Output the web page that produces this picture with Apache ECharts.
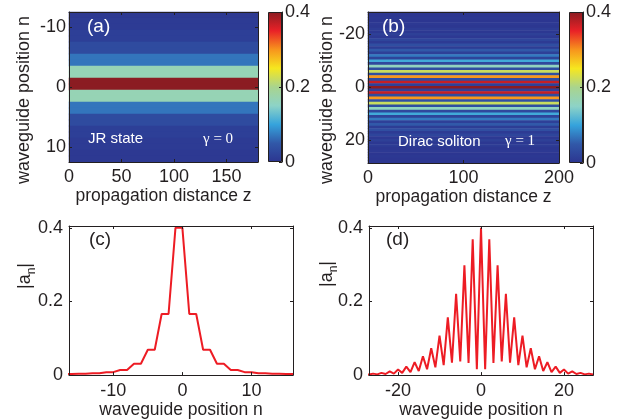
<!DOCTYPE html>
<html>
<head>
<meta charset="utf-8">
<script src="https://cdn.jsdelivr.net/npm/echarts@6/dist/echarts.min.js"></script>
<style>html,body{margin:0;padding:0;background:#fff}#main{width:620px;height:420px}</style>
</head>
<body>
<div id="main"></div>
<script>
var chartDom = document.getElementById('main');
var myChart = echarts.init(chartDom);
var option;

// JR state (gamma = 0): waveguide index n and amplitude |a_n|
const jrN = [-17, -16, -15, -14, -13, -12, -11, -10, -9, -8, -7, -6, -5, -4, -3, -2, -1,
  0, 1, 2, 3, 4, 5, 6, 7, 8, 9, 10, 11, 12, 13, 14, 15, 16, 17];
const jrAmp = [0.003, 0.003, 0.004, 0.004, 0.005, 0.005, 0.008, 0.008, 0.014, 0.014,
  0.031, 0.031, 0.069, 0.069, 0.166, 0.166, 0.4,
  0.4, 0.166, 0.166, 0.069, 0.069, 0.031, 0.031, 0.014, 0.014, 0.008, 0.008,
  0.005, 0.005, 0.004, 0.004, 0.003, 0.003, 0.002];

// Dirac soliton (gamma = 1)
const diracN = [-28, -27, -26, -25, -24, -23, -22, -21, -20, -19, -18, -17, -16, -15, -14,
  -13, -12, -11, -10, -9, -8, -7, -6, -5, -4, -3, -2, -1, 0, 1, 2, 3, 4, 5, 6, 7, 8, 9,
  10, 11, 12, 13, 14, 15, 16, 17, 18, 19, 20, 21, 22, 23, 24, 25, 26, 27, 28];
const diracAmp = [0.003, 0.0015, 0.004, 0.002, 0.006, 0.003, 0.010, 0.004, 0.015, 0.006,
  0.023, 0.008, 0.035, 0.011, 0.051, 0.016, 0.073, 0.021, 0.107, 0.027, 0.157, 0.034,
  0.221, 0.037, 0.298, 0.033, 0.369, 0.016, 0.400, 0.016, 0.369, 0.033, 0.298, 0.037,
  0.221, 0.034, 0.157, 0.027, 0.107, 0.021, 0.073, 0.016, 0.051, 0.011, 0.035, 0.008,
  0.023, 0.006, 0.015, 0.004, 0.010, 0.003, 0.006, 0.002, 0.004, 0.0015, 0.003];

// tick labels
const zTicksA = [0, 50, 100, 150];
const zTicksB = [0, 100, 200];
const nTicksA = [-10, 0, 10];
const nTicksB = [-20, 0, 20];
const ampTicks = [0, 0.2, 0.4];

const ink = '#231f20';
const font = 'Liberation Sans';
// jet colormap as printed
const jet = ['#2c3590', '#3158a8', '#35a3dc', '#8dd3c7', '#a9d48e',
  '#f6e71f', '#f7941d', '#e92127', '#8b1c22'];

// rows of a map: amplitudes of the profile for |n| within the map range
function mapRows(ns, amps, nmax) {
  const rows = [];
  const data = [];
  ns.forEach(function (n, i) {
    if (Math.abs(n) <= nmax) {
      data.push([0, rows.length, amps[i]]);
      rows.push(String(n));
    }
  });
  return { rows: rows, data: data };
}
const mapA = mapRows(jrN, jrAmp, 12);
const mapB = mapRows(diracN, diracAmp, 28);

function valAxis(grid, pos, min, max, ticks, labels, inverse, margin) {
  return {
    type: 'value', gridIndex: grid, position: pos, min: min, max: max,
    inverse: !!inverse, z: 10,
    axisLine: { show: true, onZero: false, lineStyle: { color: ink, width: 1 } },
    axisTick: { show: true, inside: true, length: 3, customValues: ticks, lineStyle: { color: ink } },
    axisLabel: { show: labels, customValues: ticks, color: ink, fontSize: 18, fontFamily: font, margin: margin || 5 },
    splitLine: { show: false }
  };
}
function xName(ax, name, gap) {
  ax.name = name;
  ax.nameLocation = 'middle';
  ax.nameGap = gap;
  ax.nameTextStyle = { color: ink, fontSize: 17.5, fontFamily: font };
  return ax;
}
function hiddenCat(grid, data, inverse) {
  return { type: 'category', gridIndex: grid, data: data, show: false, inverse: !!inverse };
}

const barGradient = new echarts.graphic.LinearGradient(0, 1, 0, 0,
  jet.map(function (c, i) { return { offset: i / (jet.length - 1), color: c }; }));

function label(x, y, text, size, color, family) {
  return {
    type: 'text', x: x, y: y, z: 100,
    style: { text: text, fill: color, font: size + 'px "' + family + '"', textAlign: 'left', textVerticalAlign: 'top' }
  };
}
function vLabel(x, y, text, rich) {
  return {
    type: 'text', x: x, y: y, rotation: Math.PI / 2, z: 100,
    style: {
      text: text, fill: ink, font: '18px "' + font + '"', lineHeight: 26,
      align: 'center', verticalAlign: 'middle', textAlign: 'center', textVerticalAlign: 'middle',
      rich: rich || {}
    }
  };
}
const subRich = { s: { fontSize: 12, fontFamily: font, fill: ink, verticalAlign: 'bottom', lineHeight: 26 } };

option = {
  animation: false,
  textStyle: { fontFamily: font },
  grid: [
    { left: 69, top: 12, width: 189, height: 150 },
    { left: 268, top: 12, width: 14, height: 150 },
    { left: 368, top: 12, width: 191, height: 151 },
    { left: 569, top: 12, width: 14, height: 151 },
    { left: 69, top: 226, width: 224, height: 150 },
    { left: 369, top: 226, width: 224, height: 150 }
  ],
  xAxis: [
    hiddenCat(0, ['z']),
    xName(valAxis(0, 'bottom', 0, 180, zTicksA, true, false, 6), 'propagation distance z', 22),
    valAxis(0, 'top', 0, 180, zTicksA, false),
    hiddenCat(1, ['cb']),
    hiddenCat(2, ['z']),
    xName(valAxis(2, 'bottom', 0, 200, zTicksB, true, false, 6), 'propagation distance z', 22),
    valAxis(2, 'top', 0, 200, zTicksB, false),
    hiddenCat(3, ['cb']),
    xName(valAxis(4, 'bottom', -16.4, 16, nTicksA, true, false, 7), 'waveguide position n', 23),
    valAxis(4, 'top', -16.4, 16, nTicksA, false),
    xName(valAxis(5, 'bottom', -27, 27, nTicksB, true, false, 7), 'waveguide position n', 23),
    valAxis(5, 'top', -27, 27, nTicksB, false)
  ],
  yAxis: [
    hiddenCat(0, mapA.rows, true),
    valAxis(0, 'left', -12.5, 12.5, nTicksA, true, true, 3),
    valAxis(0, 'right', -12.5, 12.5, nTicksA, false, true),
    valAxis(1, 'right', 0, 0.4, ampTicks, true, false, 3),
    hiddenCat(2, mapB.rows, true),
    valAxis(2, 'left', -28.5, 28.5, nTicksB, true, true, 3),
    valAxis(2, 'right', -28.5, 28.5, nTicksB, false, true),
    valAxis(3, 'right', 0, 0.4, ampTicks, true, false, 3),
    valAxis(4, 'left', 0, 0.405, ampTicks, true, false, 6),
    valAxis(4, 'right', 0, 0.405, ampTicks, false),
    valAxis(5, 'left', 0, 0.405, ampTicks, true, false, 6),
    valAxis(5, 'right', 0, 0.405, ampTicks, false)
  ],
  visualMap: {
    show: false, type: 'continuous', min: 0, max: 0.4, dimension: 2,
    seriesIndex: [0, 2], inRange: { color: jet }
  },
  series: [
    { type: 'heatmap', xAxisIndex: 0, yAxisIndex: 0, data: mapA.data, emphasis: { disabled: true } },
    { type: 'bar', xAxisIndex: 3, yAxisIndex: 3, data: [0.4], barWidth: '100%',
      itemStyle: { color: barGradient, borderColor: ink, borderWidth: 1 } },
    { type: 'heatmap', xAxisIndex: 4, yAxisIndex: 4, data: mapB.data, emphasis: { disabled: true } },
    { type: 'bar', xAxisIndex: 7, yAxisIndex: 7, data: [0.4], barWidth: '100%',
      itemStyle: { color: barGradient, borderColor: ink, borderWidth: 1 } },
    { type: 'line', xAxisIndex: 8, yAxisIndex: 8, symbol: 'none', clip: true,
      data: jrN.map(function (n, i) { return [n, jrAmp[i]]; }),
      lineStyle: { color: '#ed1c24', width: 2 } },
    { type: 'line', xAxisIndex: 10, yAxisIndex: 10, symbol: 'none', clip: true,
      data: diracN.map(function (n, i) { return [n, diracAmp[i]]; }),
      lineStyle: { color: '#ed1c24', width: 2 } }
  ],
  graphic: [
    label(87, 17, '(a)', 19, '#ffffff', font),
    label(88, 131, 'JR state', 15, '#ffffff', font),
    label(203, 132, 'γ = 0', 15, '#ffffff', 'Liberation Serif'),
    label(382, 17, '(b)', 19, '#ffffff', font),
    label(398, 134, 'Dirac soliton', 15, '#ffffff', font),
    label(505, 134, 'γ = 1', 15, '#ffffff', 'Liberation Serif'),
    label(89, 230, '(c)', 19, ink, font),
    label(386, 230, '(d)', 19, ink, font),
    vLabel(24, 100, 'waveguide position n'),
    vLabel(327, 100, 'waveguide position n'),
    vLabel(25, 276, '|a{s|n}|', subRich),
    vLabel(327, 274, '|a{s|n}|', subRich)
  ]
};

option && myChart.setOption(option);
</script>
</body>
</html>
